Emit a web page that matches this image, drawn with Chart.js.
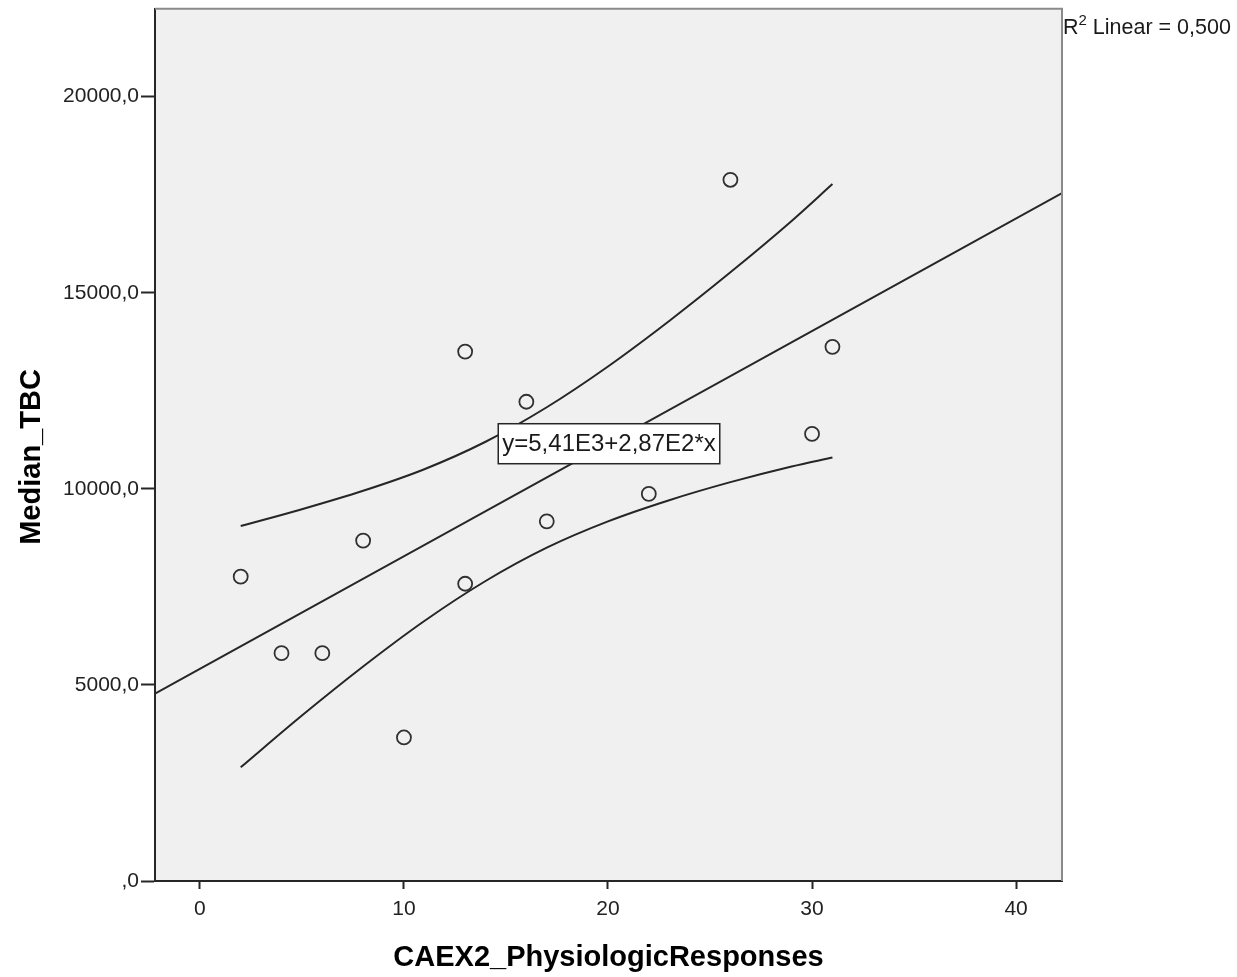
<!DOCTYPE html>
<html>
<head>
<meta charset="utf-8">
<script src="https://cdn.jsdelivr.net/npm/chart.js@4/dist/chart.umd.min.js"></script>
<style>
  html, body { margin: 0; padding: 0; background: #ffffff; }
  #wrap { width: 1237px; height: 977px; }
</style>
</head>
<body>
<div id="wrap"><canvas id="c" width="1237" height="977"></canvas></div>
<script>
// ---- Data ----
const xValues = [2, 4, 6, 8, 10, 13, 13, 16, 17, 22, 26, 30, 31];
const yValues = [7760, 5810, 5810, 8680, 3660, 13500, 7580, 12220, 9170, 9870, 17880, 11400, 13620];

// Linear fit line (y = 5,41E3 + 2,87E2*x) endpoints at the axis limits
const fitX = [-2.2, 42.25];
const fitY = [4780, 17540];

// 95% mean confidence band
const bandX = [2, 5, 8, 11, 14, 17, 20, 23, 26, 29, 31];
const bandUpper = [9050, 9480, 9950, 10500, 11200, 12080, 13120, 14280, 15520, 16830, 17770];
const bandLower = [2900, 4220, 5470, 6630, 7650, 8500, 9170, 9710, 10170, 10570, 10800];

// Axis settings / tick labels
const xMin = -2.2, xMax = 42.25;
const xTickValues = [0, 10, 20, 30, 40];
const yMin = 0, yMax = 22240;
const yTickValues = [0, 5000, 10000, 15000, 20000];
const xTitle = 'CAEX2_PhysiologicResponses';
const yTitle = 'Median_TBC   ';
const equationText = 'y=5,41E3+2,87E2*x';
const equationPos = { x: 20.05, y: 11150 };
const r2Value = '0,500';

const toPts = (xs, ys) => xs.map((x, i) => ({ x: x, y: ys[i] }));

const FONT = "'Liberation Sans', Arial, sans-serif";
const DARK = '#262626';

const decor = {
  id: 'decor',
  beforeDraw(chart) {
    const { ctx, chartArea: a } = chart;
    ctx.save();
    ctx.fillStyle = '#f0f0f0';
    ctx.fillRect(a.left, a.top, a.right - a.left, a.bottom - a.top);
    ctx.restore();
  },
  afterDraw(chart) {
    const { ctx, chartArea: a, scales } = chart;
    ctx.save();
    // top and right frame
    ctx.strokeStyle = '#8a8a8a';
    ctx.lineWidth = 2;
    ctx.beginPath();
    ctx.moveTo(a.left, a.top);
    ctx.lineTo(a.right, a.top);
    ctx.lineTo(a.right, a.bottom);
    ctx.stroke();

    // equation label box
    ctx.font = '24px ' + FONT;
    const tw = ctx.measureText(equationText).width;
    const cx = scales.x.getPixelForValue(equationPos.x);
    const cy = scales.y.getPixelForValue(equationPos.y);
    const bw = tw + 8, bh = 40;
    ctx.fillStyle = '#ffffff';
    ctx.fillRect(cx - bw / 2, cy - bh / 2, bw, bh);
    ctx.strokeStyle = DARK;
    ctx.lineWidth = 1.5;
    ctx.strokeRect(cx - bw / 2, cy - bh / 2, bw, bh);
    ctx.fillStyle = '#1a1a1a';
    ctx.textAlign = 'center';
    ctx.textBaseline = 'middle';
    ctx.fillText(equationText, cx, cy + 1);

    // R² label
    ctx.textAlign = 'left';
    ctx.textBaseline = 'alphabetic';
    let x = a.right + 1;
    const base = 34;
    ctx.font = '21.5px ' + FONT;
    ctx.fillText('R', x, base);
    x += ctx.measureText('R').width;
    ctx.font = '15px ' + FONT;
    ctx.fillText('2', x, base - 9);
    x += ctx.measureText('2').width;
    ctx.font = '21.5px ' + FONT;
    ctx.fillText(' Linear = ' + r2Value, x, base);
    ctx.restore();
  }
};

new Chart(document.getElementById('c'), {
  type: 'scatter',
  data: {
    datasets: [
      {
        label: 'Median_TBC',
        data: toPts(xValues, yValues),
        pointStyle: 'circle',
        pointRadius: 7,
        pointBorderWidth: 1.8,
        pointBackgroundColor: 'rgba(0,0,0,0)',
        pointBorderColor: '#303030',
        showLine: false,
        order: 0
      },
      {
        label: 'Fit',
        data: toPts(fitX, fitY),
        showLine: true,
        borderColor: DARK,
        borderWidth: 2,
        pointRadius: 0,
        order: 1
      },
      {
        label: 'Upper',
        data: toPts(bandX, bandUpper),
        showLine: true,
        cubicInterpolationMode: 'monotone',
        borderColor: DARK,
        borderWidth: 2,
        pointRadius: 0,
        order: 1
      },
      {
        label: 'Lower',
        data: toPts(bandX, bandLower),
        showLine: true,
        cubicInterpolationMode: 'monotone',
        borderColor: DARK,
        borderWidth: 2,
        pointRadius: 0,
        order: 1
      }
    ]
  },
  options: {
    responsive: false,
    animation: false,
    events: [],
    layout: { padding: { left: 0, right: 175, top: 7, bottom: 0 } },
    plugins: { legend: { display: false }, tooltip: { enabled: false } },
    scales: {
      x: {
        type: 'linear',
        min: xMin, max: xMax,
        afterFit(s) { s.height = 96; s.paddingLeft = 0; s.paddingRight = 0; },
        afterBuildTicks(s) { s.ticks = xTickValues.map(v => ({ value: v })); },
        border: { display: true, color: DARK, width: 2 },
        grid: { drawOnChartArea: false, drawTicks: true, tickLength: 8, tickColor: DARK, tickWidth: 2 },
        ticks: {
          padding: 8,
          color: '#222', font: { family: FONT, size: 21 },
          callback: (v) => String(v)
        },
        title: {
          display: true, text: xTitle, color: '#000',
          font: { family: FONT, size: 29, weight: 'bold' },
          padding: { top: 0, bottom: 2 }
        }
      },
      y: {
        type: 'linear',
        min: yMin, max: yMax,
        afterFit(s) { s.width = 155; s.paddingTop = 0; s.paddingBottom = 0; },
        afterBuildTicks(s) { s.ticks = yTickValues.map(v => ({ value: v })); },
        border: { display: true, color: DARK, width: 2 },
        grid: { drawOnChartArea: false, drawTicks: true, tickLength: 14, tickColor: DARK, tickWidth: 2 },
        ticks: {
          padding: 2,
          color: '#222', font: { family: FONT, size: 21 },
          callback: (v) => v === 0 ? ',0' : v.toFixed(1).replace('.', ',')
        },
        title: {
          display: true, text: yTitle, color: '#000',
          font: { family: FONT, size: 29, weight: 'bold' },
          padding: { top: 15, bottom: 0 }
        }
      }
    }
  },
  plugins: [decor]
});
</script>
</body>
</html>
